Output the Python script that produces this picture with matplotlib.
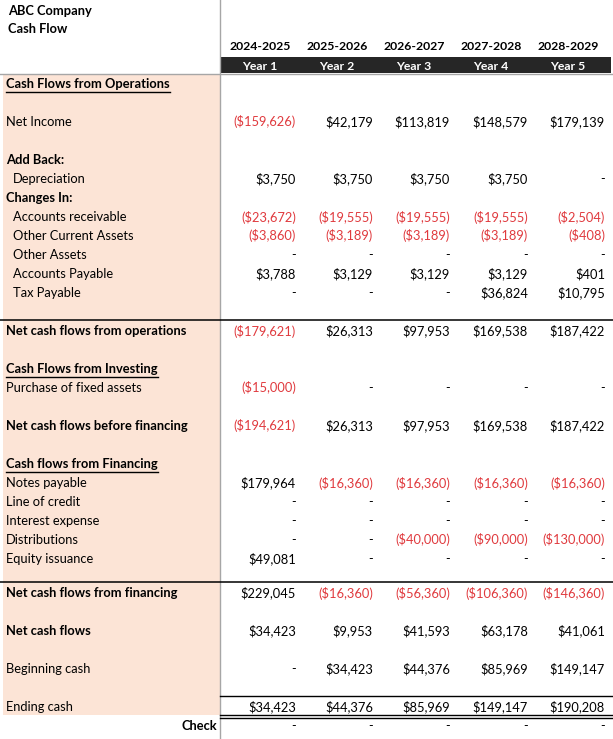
import matplotlib
matplotlib.use('Agg')
import matplotlib.pyplot as plt

plt.rcParams['font.family'] = ['Lato', 'DejaVu Sans']

# column headers
fiscal_years = ['2024-2025', '2025-2026', '2026-2027', '2027-2028', '2028-2029']
year_labels = ['Year 1', 'Year 2', 'Year 3', 'Year 4', 'Year 5']

# one entry per grid row, blank rows included ('' label, None values)
row_labels = [
    'Cash Flows from Operations', '', 'Net Income', '',
    'Add Back:', 'Depreciation', 'Changes In:',
    'Accounts receivable', 'Other Current Assets', 'Other Assets',
    'Accounts Payable', 'Tax Payable', '',
    'Net cash flows from operations', '',
    'Cash Flows from Investing', 'Purchase of fixed assets', '',
    'Net cash flows before financing', '',
    'Cash flows from Financing', 'Notes payable', 'Line of credit',
    'Interest expense', 'Distributions', 'Equity issuance', '',
    'Net cash flows from financing', '', 'Net cash flows', '',
    'Beginning cash', '', 'Ending cash', 'Check',
]
row_values = [
    None, None,
    [-159626, 42179, 113819, 148579, 179139],
    None, None,
    [3750, 3750, 3750, 3750, 0],
    None,
    [-23672, -19555, -19555, -19555, -2504],
    [-3860, -3189, -3189, -3189, -408],
    [0, 0, 0, 0, 0],
    [3788, 3129, 3129, 3129, 401],
    [0, 0, 0, 36824, 10795],
    None,
    [-179621, 26313, 97953, 169538, 187422],
    None, None,
    [-15000, 0, 0, 0, 0],
    None,
    [-194621, 26313, 97953, 169538, 187422],
    None, None,
    [179964, -16360, -16360, -16360, -16360],
    [0, 0, 0, 0, 0],
    [0, 0, 0, 0, 0],
    [0, 0, -40000, -90000, -130000],
    [49081, 0, 0, 0, 0],
    None,
    [229045, -16360, -56360, -106360, -146360],
    None,
    [34423, 9953, 41593, 63178, 41061],
    None,
    [0, 34423, 44376, 85969, 149147],
    None,
    [34423, 44376, 85969, 149147, 190208],
    [0, 0, 0, 0, 0],
]

# styling (row indices)
bold_rows = [0, 4, 6, 13, 15, 18, 20, 27, 29, 34]
underline_rows = [0, 15, 20]
indent_rows = [5, 7, 8, 9, 10, 11]

peach = '#fce4d6'
red = '#e03a3e'
dark = '#262626'
fs = 9.3

# layout in pixels
W, H = 613, 739
row0_y = 83.0
pitch = 19.0
split_x = 220
col_right = [296, 373, 450, 528, 605]
col_center = [260, 337, 414, 491, 568]


def row_y(i):
    # the blank row before 'Net cash flows from financing' is a bit shorter
    return row0_y + i * pitch - (4 if i >= 27 else 0)


def fmt(v):
    if v == 0:
        return '-'
    if v < 0:
        return f'(${-v:,.0f})'
    return f'${v:,.0f}'


fig = plt.figure(figsize=(W / 100, H / 100), dpi=100)
ax = fig.add_axes([0, 0, 1, 1])
ax.set_xlim(0, W)
ax.set_ylim(H, 0)
ax.axis('off')

# peach label block
ax.add_patch(plt.Rectangle((3, 74), split_x - 3, row_y(33) + 9 - 74,
                           color=peach, lw=0, zorder=0))
# dark header band
ax.add_patch(plt.Rectangle((split_x, 57), 611 - split_x, 16,
                           color=dark, lw=0, zorder=1))

ax.text(8, 11, 'ABC Company', fontsize=fs, fontweight='bold', va='center')
ax.text(8, 29, 'Cash Flow', fontsize=fs, fontweight='bold', va='center')
for j in range(5):
    ax.text(col_center[j], 47, fiscal_years[j], fontsize=fs - 0.5,
            fontweight='bold', ha='center', va='center')
    ax.text(col_center[j], 66, year_labels[j], fontsize=fs - 0.5,
            fontweight='bold', ha='center', va='center', color='white', zorder=2)

# grid lines
ax.plot([split_x, split_x], [0, H], color='#a6a6a6', lw=1.0, zorder=3)
ax.plot([0, W], [74, 74], color='#a6a6a6', lw=1.0, zorder=3)
for r in [13, 27]:
    yy = row_y(r) - 10
    ax.plot([0, W], [yy, yy], color='black', lw=1.1, zorder=3)
ax.plot([split_x, W], [row_y(33) - 10.5, row_y(33) - 10.5], color='black', lw=1.0, zorder=3)
ax.plot([split_x, W], [row_y(33) + 8.5, row_y(33) + 8.5], color='black', lw=1.0, zorder=3)
ax.plot([split_x, W], [row_y(33) + 11.5, row_y(33) + 11.5], color='black', lw=1.0, zorder=3)

under_texts = []
for i, label in enumerate(row_labels):
    y = row_y(i) + 1
    weight = 'bold' if i in bold_rows else 'normal'
    if label == 'Check':
        ax.text(217, y, label, fontsize=fs, fontweight='bold', ha='right', va='center')
    elif label:
        x = 13 if i in indent_rows else 6
        t = ax.text(x, y, label, fontsize=fs, fontweight=weight, va='center')
        if i in underline_rows:
            under_texts.append((t, y))
    vals = row_values[i]
    if vals is None:
        continue
    for j, v in enumerate(vals):
        ax.text(col_right[j], y, fmt(v), fontsize=fs,
                ha='right', va='center', color=red if v < 0 else 'black')

fig.canvas.draw()
renderer = fig.canvas.get_renderer()
inv = ax.transData.inverted()
for t, y in under_texts:
    bb = t.get_window_extent(renderer)
    x0, _ = inv.transform((bb.x0, bb.y0))
    x1, _ = inv.transform((bb.x1, bb.y0))
    ax.plot([x0, x1], [y + 8, y + 8], color='black', lw=1.0)

fig.savefig('out.png', dpi=100)
